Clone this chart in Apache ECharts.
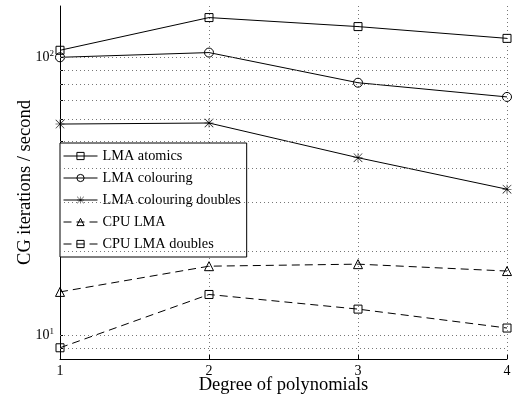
<!DOCTYPE html>
<html>
<head>
<meta charset="utf-8">
<script src="https://cdn.jsdelivr.net/npm/echarts@6/dist/echarts.min.js"></script>
<style>
  html, body { margin: 0; padding: 0; background: #fff; }
  #chart { width: 513px; height: 401px; }
</style>
</head>
<body>
<div id="chart"></div>
<script>
// Polynomial degree on the x axis
const degrees = [1, 2, 3, 4];

// CG iterations per second for each configuration
const lmaAtomics = [106, 139, 129, 117];
const lmaColouring = [100, 104, 81, 72];
const lmaColouringDoubles = [57.5, 58, 43.5, 33.5];
const cpuLma = [14.3, 17.7, 18.0, 17.0];
const cpuLmaDoubles = [9.0, 14.0, 12.4, 10.6];

// Log-axis decades and the minor grid values between them
const yMajorTicks = [10, 100];
const yGridValues = [9, 10, 20, 30, 40, 50, 60, 70, 80, 90, 100];

const seriesNames = ['LMA atomics', 'LMA colouring', 'LMA colouring doubles', 'CPU LMA', 'CPU LMA doubles'];

const FONT = 'Liberation Serif';
const asterisk = 'path://M7.5 0h1v16h-1z M0 7.5h16v1h-16z M0.7 0L16 15.3L15.3 16L0 0.7z M15.3 0L16 0.7L0.7 16L0 15.3z';

function pairs(values) {
  return degrees.map((d, i) => [d, values[i]]);
}

function makeSeries(name, values, symbol, size, dashed, filled) {
  return {
    name: name,
    type: 'line',
    data: pairs(values),
    symbol: symbol,
    symbolSize: size,
    z: 3,
    lineStyle: { color: '#000', width: 1, type: dashed ? [8, 5] : 'solid' },
    itemStyle: {
      color: filled ? '#000' : 'rgba(0,0,0,0)',
      borderColor: '#000',
      borderWidth: filled ? 0 : 1
    },
    emphasis: { disabled: true }
  };
}

const legendItems = seriesNames.map((name, i) => ({
  name: name,
  itemStyle: i === 2 ? { borderWidth: 0 } : { borderWidth: 1, borderColor: '#000', color: 'rgba(0,0,0,0)' },
  lineStyle: { width: 1 }
}));

const chart = echarts.init(document.getElementById('chart'), null, { renderer: 'canvas' });

const supLabel = function (v) {
  const e = Math.round(Math.log10(v));
  return '{b|10}{s|' + e + '}';
};

chart.setOption({
  animation: false,
  backgroundColor: '#fff',
  grid: { left: 60, right: 6, top: 6, bottom: 42, outerBoundsMode: 'none' },
  xAxis: {
    type: 'value',
    min: 1,
    max: 4,
    interval: 1,
    name: 'Degree of polynomials',
    nameLocation: 'middle',
    nameGap: 17,
    nameMoveOverlap: false,
    nameTextStyle: { fontFamily: FONT, fontSize: 18.5, color: '#000' },
    axisLine: { lineStyle: { color: '#000', width: 1 } },
    axisTick: { inside: true, length: 4, lineStyle: { color: '#000' } },
    axisLabel: { fontFamily: FONT, fontSize: 14, color: '#000', margin: 5 },
    splitLine: { show: true, lineStyle: { color: '#777', type: [1, 3], width: 1 } }
  },
  yAxis: {
    type: 'log',
    logBase: 10,
    min: 8.2,
    max: 153,
    name: 'CG iterations / second',
    nameLocation: 'middle',
    nameGap: 25,
    nameRotate: 90,
    nameMoveOverlap: false,
    nameTextStyle: { fontFamily: FONT, fontSize: 18.5, color: '#000' },
    axisLine: { show: true, lineStyle: { color: '#000', width: 1 } },
    axisTick: { show: true, inside: true, length: 3, customValues: yGridValues, lineStyle: { color: '#000' } },
    axisLabel: {
      customValues: yMajorTicks,
      formatter: supLabel,
      margin: 6,
      rich: {
        b: { fontFamily: FONT, fontSize: 14, color: '#000', lineHeight: 16 },
        s: { fontFamily: FONT, fontSize: 9, color: '#000', verticalAlign: 'top', lineHeight: 16 }
      }
    },
    splitLine: { show: false }
  },
  legend: {
    data: legendItems,
    orient: 'vertical',
    left: 60,
    top: 143,
    backgroundColor: '#fff',
    borderColor: '#000',
    borderWidth: 1,
    borderRadius: 0,
    padding: [6, 6, 6, 3],
    itemWidth: 34,
    itemHeight: 9,
    itemGap: 8,
    lineStyle: { width: 1 },
    textStyle: { fontFamily: FONT, fontSize: 14.3, color: '#000' },
    selectedMode: false
  },
  series: [
    {
      name: 'grid',
      type: 'line',
      data: [],
      silent: true,
      z: 1,
      markLine: {
        silent: true,
        symbol: 'none',
        label: { show: false },
        lineStyle: { color: '#777', type: [1, 3], width: 1 },
        emphasis: { disabled: true },
        data: yGridValues.map(v => ({ yAxis: v }))
      }
    },
    makeSeries('LMA atomics', lmaAtomics, 'rect', 8, false, false),
    makeSeries('LMA colouring', lmaColouring, 'circle', 9, false, false),
    makeSeries('LMA colouring doubles', lmaColouringDoubles, asterisk, 9, false, true),
    makeSeries('CPU LMA', cpuLma, 'triangle', 9, true, false),
    makeSeries('CPU LMA doubles', cpuLmaDoubles, 'rect', 8, true, false)
  ]
});
</script>
</body>
</html>
